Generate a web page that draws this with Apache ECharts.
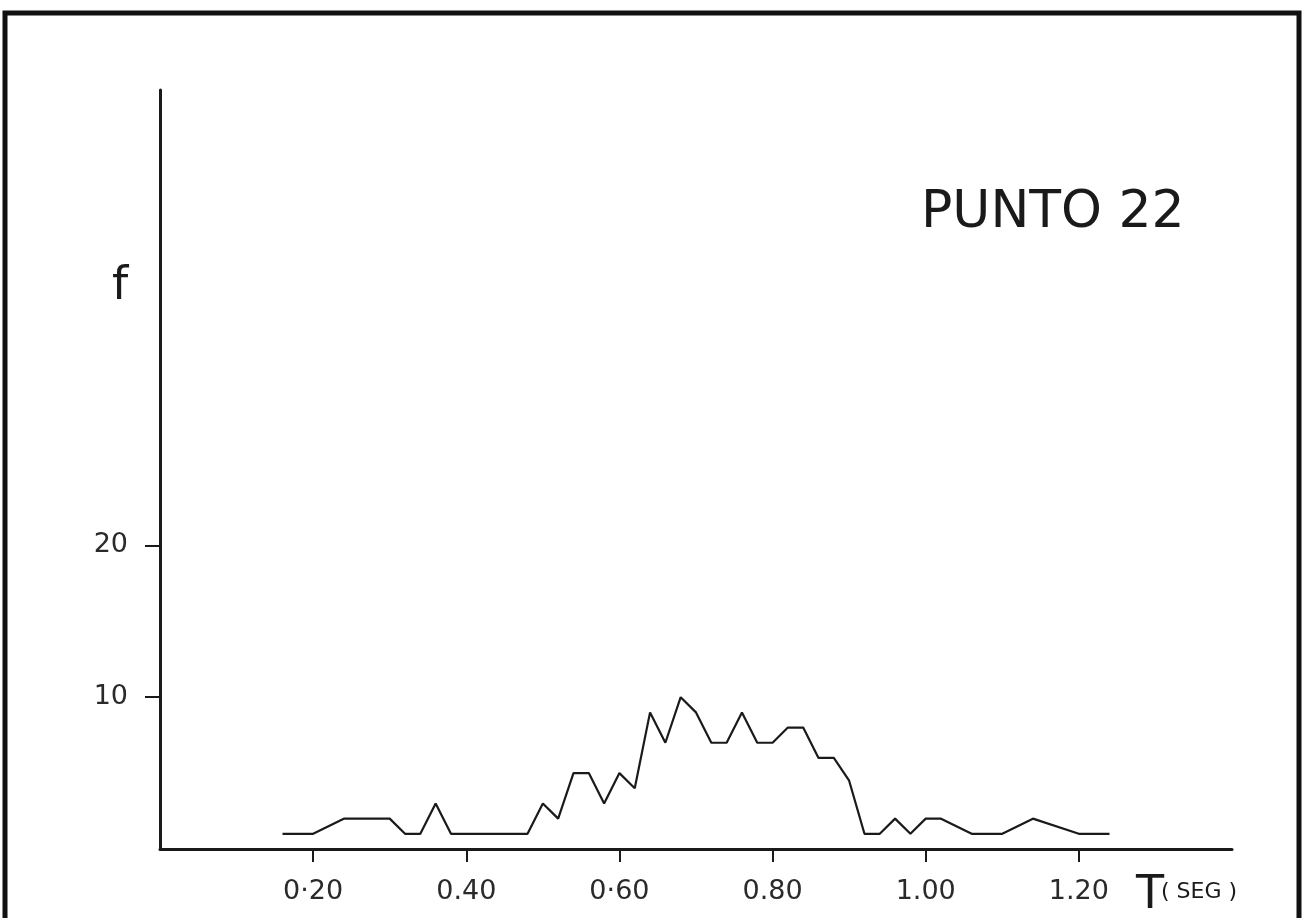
<!DOCTYPE html>
<html>
<head>
<meta charset="utf-8">
<script src="https://cdn.jsdelivr.net/npm/echarts@6/dist/echarts.min.js"></script>
<style>
  html, body { margin: 0; padding: 0; background: #ffffff; }
  #chart { width: 1307px; height: 918px; }
</style>
</head>
<body>
<div id="chart"></div>
<script>
// Period T (s) at each vertex of the frequency polygon
const periods = [0.16, 0.20, 0.24, 0.30, 0.32, 0.34, 0.36, 0.38, 0.48, 0.50,
                 0.52, 0.54, 0.56, 0.58, 0.60, 0.62, 0.64, 0.66, 0.68, 0.70,
                 0.72, 0.74, 0.76, 0.78, 0.80, 0.82, 0.84, 0.86, 0.88, 0.90,
                 0.92, 0.94, 0.96, 0.98, 1.00, 1.02, 1.06, 1.10, 1.14, 1.20, 1.24];
// Frequency f at each vertex
const freq = [1, 1, 2, 2, 1, 1, 3, 1, 1, 3,
              2, 5, 5, 3, 5, 4, 9, 7, 10, 9,
              7, 7, 9, 7, 7, 8, 8, 6, 6, 4.5,
              1, 1, 2, 1, 2, 2, 1, 1, 2, 1, 1];

// Axis ticks and their printed labels
const xTicks = [0.20, 0.40, 0.60, 0.80, 1.00, 1.20];
const xTickLabels = ['0·20', '0.40', '0·60', '0.80', '1.00', '1.20'];
const yTicks = [10, 20];
const yTickLabels = ['10', '20'];

const title = 'PUNTO 22';

const ink = '#1a1a1a';
const font = 'DejaVu Sans, Liberation Sans, sans-serif';

const chart = echarts.init(document.getElementById('chart'), null, { renderer: 'canvas' });

chart.setOption({
  backgroundColor: '#ffffff',
  animation: false,
  grid: { left: 160, right: 75, top: 90, bottom: 69, containLabel: false },
  xAxis: {
    type: 'value',
    min: 0,
    max: 1.4,
    interval: 0.2,
    splitLine: { show: false },
    axisLine: { show: true, onZero: false, lineStyle: { color: ink, width: 3 } },
    axisTick: { show: true, customValues: xTicks, length: 13, inside: false,
                lineStyle: { color: ink, width: 2 } },
    axisLabel: {
      customValues: xTicks,
      margin: 29,
      color: '#2a2a2a',
      fontFamily: font,
      fontSize: 27,
      formatter: v => {
        const i = xTicks.findIndex(t => Math.abs(t - v) < 1e-6);
        return i >= 0 ? xTickLabels[i] : '';
      }
    }
  },
  yAxis: {
    type: 'value',
    min: 0,
    max: 50,
    interval: 10,
    splitLine: { show: false },
    axisLine: { show: true, onZero: false, lineStyle: { color: ink, width: 3 } },
    axisTick: { show: true, customValues: yTicks, length: 15, inside: false,
                lineStyle: { color: ink, width: 2 } },
    axisLabel: {
      customValues: yTicks,
      margin: 32,
      color: '#2a2a2a',
      fontFamily: font,
      fontSize: 27,
      formatter: v => {
        const i = yTicks.findIndex(t => Math.abs(t - v) < 1e-6);
        return i >= 0 ? yTickLabels[i] : '';
      }
    }
  },
  series: [{
    type: 'line',
    data: periods.map((t, i) => [t, freq[i]]),
    symbol: 'none',
    smooth: false,
    lineStyle: { color: ink, width: 2.2 },
    z: 3
  }],
  graphic: [
    {
      type: 'rect',
      shape: { x: 5, y: 13, width: 1294, height: 1000 },
      style: { fill: null, stroke: '#111111', lineWidth: 5 },
      silent: true
    },
    {
      type: 'text',
      left: 921,
      top: 187,
      style: { text: title, fill: ink, font: '52px ' + font }
    },
    {
      type: 'text',
      left: 112,
      top: 264,
      style: { text: 'f', fill: ink, font: '46px ' + font }
    },
    {
      type: 'text',
      left: 1136,
      top: 873,
      style: { text: 'T', fill: ink, font: '46px ' + font }
    },
    {
      type: 'text',
      left: 1161,
      top: 881,
      style: { text: '( SEG )', fill: ink, font: '22px ' + font }
    }
  ]
});
</script>
</body>
</html>
